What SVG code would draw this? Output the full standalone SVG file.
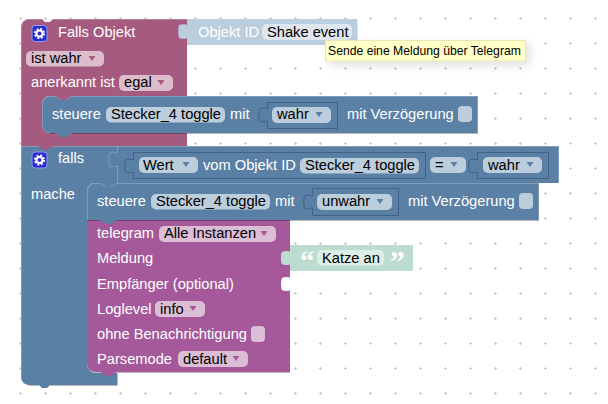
<svg xmlns="http://www.w3.org/2000/svg" width="608" height="404" viewBox="0 0 608 404">
<style>
text{font-family:"Liberation Sans",Arial,sans-serif;font-size:14.67px}
.w{fill:#fff}.k{fill:#000}
.maroon{fill:#a55b80}.blue{fill:#5b80a5}.purple{fill:#a5599a}.ghost{fill:#bccddc}.green{fill:#bddcd0}
.pm{fill:#dbbdcc}.pb{fill:#bccddc}.pp{fill:#dbbdd6}
.tm{fill:#a55b80}.tb{fill:#5b80a5}.tp{fill:#a5599a}
.hi{fill:none;stroke:#fff;stroke-opacity:.22;stroke-width:1}
.lo{fill:none;stroke:#000;stroke-opacity:.28;stroke-width:1}
.box{fill:none;stroke:#3f6287;stroke-width:1}
.gear{fill:none;stroke:#fff}
.q{font:bold 29px "Liberation Serif",serif;fill:#fff}
</style>
<defs>
<pattern id="grid" x="0" y="0" width="25" height="25" patternUnits="userSpaceOnUse">
<path d="M19 18.500h3M20.500 17v3" stroke="#ccc" stroke-width="1"/>
</pattern>
<filter id="sh" x="-20%" y="-80%" width="140%" height="260%"><feDropShadow dx="4" dy="4" stdDeviation="5" flood-color="#000" flood-opacity=".12"/></filter>
<path id="tri" d="M-3.500 0h7l-3.500 5z"/>
<g id="icon"><rect x=".5" y=".5" width="15" height="16" rx="3" fill="#2c2fd0" stroke="#8f9ae8"/><circle class="gear" cx="8" cy="8.500" r="3" stroke-width="2"/><circle class="gear" cx="8" cy="8.500" r="4.600" stroke-width="1.800" stroke-dasharray="2 1.620"/></g>
</defs>
<rect width="608" height="404" fill="#fff"/>
<rect width="608" height="404" fill="url(#grid)"/>

<g id="falls">
<path class="blue" d="M21 146H559V183H117l-6 4h-5l-6-4H95a8 8 0 0 0-8 8V364a9 9 0 0 0 9 9H117V385H50l-3 3h-5l-3-3H29a8 8 0 0 1-8-8z"/>
<path class="hi" d="M21.500 377V146.500H558.500V183"/>
<path class="hi" d="M117.500 146V153M117.500 166V183"/>
<path class="lo" d="M29 385.500H39M50 385.500H117M117.500 373V385"/>
<use href="#icon" x="31.500" y="151.500"/>
<text class="w" x="58" y="163">falls</text>
<text class="w" x="31" y="199">mache</text>
<path d="M117.500 153c-3-1-7-1-8 0-1 4-1 9 0 13 1 1 5 1 8 0" fill="#5b80a5" stroke="#7f9cb9"/>
<path class="box" d="M133.500 152.500H425.500V178.500H133.500V172c-3 1-7 1-8 0-1-4-1-9 0-12 1-1 5-1 8 0z"/>
<rect class="pb" x="139" y="157" width="59" height="16" rx="5"/>
<text class="k" x="143" y="170">Wert</text><use class="tb" href="#tri" x="186" y="162"/>
<text class="w" x="203" y="170">vom Objekt ID</text>
<rect class="pb" x="300" y="158" width="119" height="15.500" rx="5"/>
<text class="k" x="305" y="170">Stecker_4 toggle</text>
<rect class="pb" x="430" y="157" width="36" height="16" rx="5"/>
<text class="k" x="435" y="170">=</text><use class="tb" href="#tri" x="454" y="162"/>
<path class="box" d="M477.500 152.500H548.500V178.500H477.500V172c-3 1-7 1-8 0-1-4-1-9 0-12 1-1 5-1 8 0z"/>
<rect class="pb" x="483" y="157" width="59" height="16" rx="5"/>
<text class="k" x="488" y="170">wahr</text><use class="tb" href="#tri" x="530" y="162"/>
</g>

<g id="falls-objekt">
<path class="maroon" d="M21 27a8 8 0 0 1 8-8H42l3 3h5l3-3H187V96H72l-6 4h-5l-6-4H50a8 8 0 0 0-8 8v21a8 8 0 0 0 8 8H187v13H53l-6 4h-3l-6-4H21z"/>
<path class="hi" d="M21.500 146V27a7.500 7.500 0 0 1 7.500-7.500H42M53 19.500H187"/>
<use href="#icon" x="31.500" y="25"/>
<text class="w" x="58" y="37">Falls Objekt</text>
<rect class="pm" x="26" y="51" width="78" height="15.500" rx="5"/>
<text class="k" x="31" y="63">ist wahr</text><use class="tm" href="#tri" x="92" y="56"/>
<text class="w" x="31" y="87">anerkannt ist</text>
<rect class="pm" x="119" y="75" width="54" height="16" rx="5"/>
<text class="k" x="124" y="87">egal</text><use class="tm" href="#tri" x="161" y="80"/>
</g>

<g id="objekt-id">
<path class="ghost" d="M187 19H357.500V45H187V38c-1 1-5 1-8 0-1-4-1-9 0-13 3-1 7-1 8 0z"/>
<text class="w" x="198" y="37">Objekt ID</text>
<rect x="262" y="24" width="90" height="16" rx="5" fill="#dfe6ee"/>
<text class="k" x="267" y="37">Shake event</text>
</g>

<g id="steuere-1">
<path class="blue" d="M42 104a8 8 0 0 1 8-8H55l6 4h5l6-4H478V133H72l-6 4h-5l-6-4H50a8 8 0 0 1-8-8z"/>
<path class="hi" d="M42.500 125V104a7.500 7.500 0 0 1 7.500-7.500H55M72 96.500H477.500V133"/>
<path class="lo" d="M50 133.500H55M72 133.500H478"/>
<text class="w" x="52" y="119">steuere</text>
<rect class="pb" x="106" y="107" width="119" height="15.500" rx="5"/>
<text class="k" x="111" y="119">Stecker_4 toggle</text>
<text class="w" x="230" y="119">mit</text>
<path class="box" d="M267.500 102.500H337.500V128.500H267.500V121c-3 1-7 1-8 0-1-4-1-9 0-12 1-1 5-1 8 0z"/>
<rect class="pb" x="272" y="107" width="59" height="16" rx="5"/>
<text class="k" x="277" y="119">wahr</text><use class="tb" href="#tri" x="319" y="112"/>
<text class="w" x="347" y="119">mit Verzögerung</text>
<rect class="pb" x="458" y="106" width="14" height="16" rx="4"/>
</g>

<g id="telegram">
<path class="purple" d="M87 220H290V252c-1-1-5-1-8 0-1 4-1 9 0 12 3 1 7 1 8 0v14c-1-1-5-1-8 0-1 4-1 9 0 12 3 1 7 1 8 0V372H117l-6 4h-5l-6-4H95a8 8 0 0 1-8-8z"/>
<path d="M290 278c-1-1-5-1-8 0-1 4-1 9 0 12 3 1 7 1 8 0z" fill="#fff"/>
<path class="lo" d="M100 372.500H95M117 372.500H290"/>
<text class="w" x="97" y="238">telegram</text>
<rect class="pp" x="159" y="226" width="117" height="16" rx="5"/>
<text class="k" x="164" y="238">Alle Instanzen</text><use class="tp" href="#tri" x="264" y="231"/>
<text class="w" x="97" y="263">Meldung</text>
<text class="w" x="97" y="289">Empfänger (optional)</text>
<text class="w" x="97" y="314">Loglevel</text>
<rect class="pp" x="155" y="301" width="50" height="16" rx="5"/>
<text class="k" x="160" y="314">info</text><use class="tp" href="#tri" x="193" y="306"/>
<text class="w" x="97" y="339">ohne Benachrichtigung</text>
<rect class="pp" x="251" y="326" width="14" height="16" rx="4"/>
<text class="w" x="97" y="364">Parsemode</text>
<rect class="pp" x="178" y="351" width="70" height="16" rx="5"/>
<text class="k" x="183" y="364">default</text><use class="tp" href="#tri" x="236" y="356"/>
</g>

<g id="steuere-2">
<path class="blue" d="M87 191a8 8 0 0 1 8-8H100l6 4h5l6-4H539V220H117l-6 4h-5l-6-4H87z"/>
<path class="hi" d="M87.500 220V191a7.500 7.500 0 0 1 7.500-7.500H100M117 183.500H538.500V220"/>
<path class="lo" d="M87 220.500H100M117 220.500H539"/>
<text class="w" x="97" y="206">steuere</text>
<rect class="pb" x="151" y="194" width="119" height="15.500" rx="5"/>
<text class="k" x="156" y="206">Stecker_4 toggle</text>
<text class="w" x="275" y="206">mit</text>
<path class="box" d="M312.500 188.500H398.500V215.500H312.500V208c-3 1-7 1-8 0-1-4-1-9 0-12 1-1 5-1 8 0z"/>
<rect class="pb" x="317" y="194" width="75" height="16" rx="5"/>
<text class="k" x="322" y="206">unwahr</text><use class="tb" href="#tri" x="380" y="199"/>
<text class="w" x="408" y="206">mit Verzögerung</text>
<rect class="pb" x="519" y="193" width="14" height="16" rx="4"/>
</g>

<g id="text-block">
<path class="green" d="M290 245H413V271H290V264c-1 1-5 1-8 0-1-4-1-9 0-12 3-1 7-1 8 0z"/>
<text class="q" x="300" y="271">“</text>
<rect x="317" y="250" width="67" height="15.500" rx="5" fill="#ddeee8"/>
<text class="k" x="322" y="263">Katze an</text>
<text class="q" x="390" y="271">”</text>
</g>

<g id="tooltip">
<rect x="325.500" y="40.500" width="200" height="20.500" fill="#ffffc7" stroke="#e6e6b8" filter="url(#sh)"/>
<text class="k" x="328" y="55" style="font-size:12.200px">Sende eine Meldung über Telegram</text>
</g>
</svg>
